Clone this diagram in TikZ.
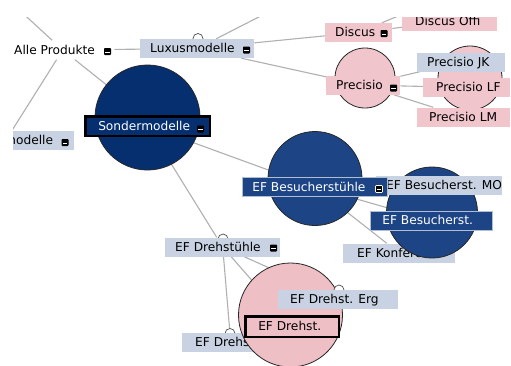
\documentclass[tikz,border=0pt]{standalone}
\usepackage{tikz}
\usepackage{fontspec}
\setmainfont{DejaVu Sans}
\definecolor{lb}{HTML}{C8D2E2}
\definecolor{pk}{HTML}{F0C6CC}
\definecolor{pkc}{HTML}{EEBFC5}
\definecolor{nv}{HTML}{062F70}
\definecolor{nvb}{HTML}{1D4585}
\definecolor{ln}{HTML}{B0B0B0}
\pgfdeclarelayer{bgw}
\pgfdeclarelayer{bg}
\pgfsetlayers{bgw,bg,main}
\newcommand\boxtxt[3]{\makebox[#1pt][l]{\hspace{#2pt}#3}}
\begin{document}
\begin{tikzpicture}[x=1pt,y=-1pt,
  lbl/.style={rectangle, anchor=west, inner sep=0pt, minimum height=19pt, text height=10pt, text depth=1.5pt, font=\fontsize{12.2}{14}\selectfont},
  lbox/.style={lbl, fill=lb},
  pbox/.style={lbl, fill=pk},
  nbox/.style={lbl, fill=nvb, text=white, draw=white!65!nvb, line width=0.8pt},
  conn/.style={draw=ln, line width=1.1pt},
  bigc/.style={circle, draw=black!85, line width=0.8pt, inner sep=0pt},
  bump/.style={circle, fill=white, draw=black!70, line width=0.7pt, minimum size=10pt, inner sep=0pt},
  mi/.style={rectangle, fill=black, minimum size=7pt, inner sep=0pt, rounded corners=0.8pt,
    path picture={\draw[white, line width=1.1pt] ([xshift=1.4pt,yshift=-0.6pt]path picture bounding box.west) -- ([xshift=-1.4pt,yshift=-0.6pt]path picture bounding box.east);}}
]
\useasboundingbox (0,0) rectangle (511,365);
\begin{pgfonlayer}{bgw}
\fill[white] (0,0) rectangle (511,365);
\end{pgfonlayer}

% Alle Produkte
\node[lbl] (alle) at (11,50) {\boxtxt{103}{3}{Alle Produkte}};
\node[mi] (allem) at (107.5,51.5) {};

% Sondermodelle
\node[bigc, fill=nv, minimum size=105pt] (sondc) at (147.5,117.5) {};
\node[lbl, fill=nv, text=white, draw=black, line width=2.5pt, minimum height=19.5pt] (sond) at (84.25,126) {\boxtxt{124.5}{12.75}{Sondermodelle}};
\node[mi] (sondm) at (200.5,129) {};

% modelle (left, clipped)
\node[lbox] (mod) at (-20,140) {\boxtxt{94}{24}{modelle}};
\node[mi] (modm) at (65,142.5) {};

% Luxusmodelle
\node[bump] (luxb) at (198,38.5) {};
\node[lbox] (lux) at (140,48.5) {\boxtxt{114}{10}{Luxusmodelle}};
\node[mi] (luxm) at (246.5,50) {};

% Discus
\node[pbox] (disc) at (325,32.5) {\boxtxt{67}{10}{Discus}};
\node[mi] (discm) at (384,33.5) {};
\node[pbox] (disco) at (402,21.5) {\boxtxt{95}{13}{Discus Offi}};

% Precisio
\node[bigc, fill=pk, minimum size=60pt] (precc) at (365,78) {};
\node[pbox] (prec) at (326,85) {\boxtxt{74}{10}{Precisio}};
\node[mi] (precm) at (393.5,88) {};
\node[bigc, fill=pk, minimum size=64pt] (lfc) at (470,78) {};
\node[lbox] (jk) at (417,62) {\boxtxt{88}{10}{Precisio JK}};
\node[pbox] (lf) at (423,87.5) {\boxtxt{87}{13}{Precisio LF}};
\node[pbox] (lm) at (417,117) {\boxtxt{93}{12}{Precisio LM}};

% EF Besucherstuehle
\node[bigc, fill=nvb, minimum size=94pt] (besc) at (315,178.5) {};
\node[lbox] (konf) at (343,253) {\boxtxt{112}{14}{EF Konferenz}};
\node[bigc, fill=nvb, minimum size=91pt] (bes2c) at (432,212.5) {};
\node[lbox] (mo) at (376,185.5) {\boxtxt{126}{10}{EF Besucherst. MO}};
\node[nbox] (bes) at (242,187) {\boxtxt{145}{10}{EF Besucherstühle}};
\node[mi, draw=white, line width=0.6pt] (besm) at (379,189) {};
\node[nbox] (bes2) at (370,220.5) {\boxtxt{122}{12}{EF Besucherst.}};

% EF Drehstuehle
\node[bump] (drehb) at (223,239) {};
\node[lbox] (dreh) at (165,247) {\boxtxt{115}{10}{EF Drehstühle}};
\node[mi] (drehm) at (273.5,248) {};
\node[bump] (dreh2b) at (230,333.5) {};
\node[lbox] (dreh2) at (182,342.5) {\boxtxt{110}{13}{EF Drehst.}};
\node[bigc, fill=pkc, minimum size=104pt] (drehsc) at (290.5,315) {};
\node[bump] (ergb) at (339,290) {};
\node[lbox] (erg) at (278,299) {\boxtxt{120}{12}{EF Drehst. Erg}};
\node[lbl, fill=pkc, draw=black, line width=2.5pt, minimum height=20.5pt] (drehs) at (244.25,326.5) {\boxtxt{93.5}{12.75}{EF Drehst.}};

% free ends of connectors
\coordinate (tl) at (-9,-16);
\coordinate (modc) at (6,140);
\coordinate (ltop) at (292,0);
\coordinate (dtop) at (460,-10);

% connectors
\begin{pgfonlayer}{bg}
\draw[conn] (alle) -- (tl);
\draw[conn] (alle) -- (modc);
\draw[conn] (alle) -- (sondc);
\draw[conn] (alle) -- (lux);
\draw[conn] (lux) -- (ltop);
\draw[conn] (lux) -- (disc);
\draw[conn] (lux) -- (prec);
\draw[conn] (disc) -- (dtop);
\draw[conn] (disc) -- (disco);
\draw[conn] (prec) -- (jk);
\draw[conn] (prec) -- (lf);
\draw[conn] (prec) -- (lm);
\draw[conn] (sond) -- (bes);
\draw[conn] (sond) -- (dreh);
\draw[conn] (bes) -- (mo);
\draw[conn] (bes) -- (bes2);
\draw[conn] (bes) -- (konf);
\draw[conn] (dreh) -- (dreh2b);
\draw[conn] (dreh) -- (drehs);
\draw[conn] (dreh) -- (erg);
\end{pgfonlayer}

% visible window margins
\fill[white] (-50,-50) rectangle (561,17);
\fill[white] (-50,-50) rectangle (13,415);
\end{tikzpicture}
\end{document}
